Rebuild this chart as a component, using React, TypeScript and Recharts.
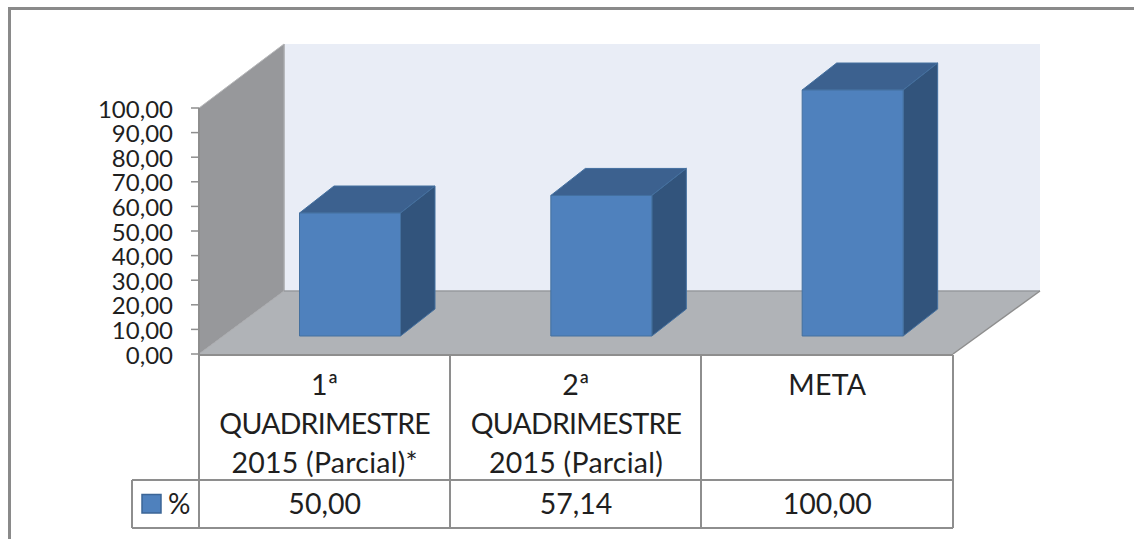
import React from "react";
import { BarChart, Bar, XAxis, YAxis, Customized } from "recharts";

const categories = ["1ª\nQUADRIMESTRE\n2015 (Parcial)*", "2ª\nQUADRIMESTRE\n2015 (Parcial)", "META"];
const values = [50.0, 57.14, 100.0];
const yTicks = [0, 10, 20, 30, 40, 50, 60, 70, 80, 90, 100];
const seriesName = "%";

const data = categories.map((c, i) => ({ category: c, value: values[i] }));
const fmt = (v: number) => v.toFixed(2).replace(".", ",");

const FONT = "Lato, sans-serif";
const TEXT = "#1f1f1f";
const LINE = "#8e8e8e";
const DX = 25.5;
const DY = 18;
const DEPTH_X = 34.5;
const DEPTH_Y = 27;

const Frame = () => (
  <g>
    <polygon points="284,44 1040,44 1040,291 284,291" fill="#e9edf6" />
    <polygon points="199,108 284,44 284,291 199,354" fill="#97989b" />
    <polygon points="199,354 284,291 1040,291 953,354" fill="#b0b3b7" />
    <line x1={284} y1={44} x2={284} y2={291} stroke="#a6a7aa" strokeWidth={1.5} />
    <line x1={284} y1={291} x2={1040} y2={291} stroke="#979a9e" strokeWidth={1.5} />
    <line x1={199} y1={354} x2={284} y2={291} stroke="#a9aaad" strokeWidth={1} />
    <line x1={199} y1={108} x2={284} y2={44} stroke="#b8b9bb" strokeWidth={1} />
    <line x1={953} y1={354} x2={1040} y2={291} stroke={LINE} strokeWidth={1.5} />
  </g>
);

const Table = () => (
  <g stroke={LINE} strokeWidth={2} fill="none">
    <line x1={199} y1={355} x2={953} y2={355} />
    <line x1={199} y1={108} x2={199} y2={528} />
    <line x1={450} y1={355} x2={450} y2={528} />
    <line x1={701} y1={355} x2={701} y2={528} />
    <line x1={953} y1={355} x2={953} y2={528} />
    <line x1={132} y1={480} x2={953} y2={480} />
    <line x1={132} y1={528} x2={953} y2={528} />
    <line x1={132} y1={480} x2={132} y2={528} />
    <rect x={142} y={494.5} width={19} height={18.5} fill="#4f81bd" stroke="#3b6596" strokeWidth={1.5} />
    <text x={168} y={514} fontFamily={FONT} fontSize={28} fill={TEXT} stroke="none">{seriesName}</text>
  </g>
);

const Bar3D = (props: any) => {
  const { x, y, width, height, fill } = props;
  const l = x + DX;
  const r = l + width;
  const t = y - DY;
  const b = t + height;
  return (
    <g stroke="#44709f" strokeWidth={1} strokeLinejoin="round">
      <polygon points={`${l},${t} ${l + DEPTH_X},${t - DEPTH_Y} ${r + DEPTH_X},${t - DEPTH_Y} ${r},${t}`} fill="#3c618f" />
      <polygon points={`${r},${t} ${r + DEPTH_X},${t - DEPTH_Y} ${r + DEPTH_X},${b - DEPTH_Y} ${r},${b}`} fill="#32547c" />
      <rect x={l} y={t} width={width} height={height} fill={fill} />
    </g>
  );
};

const CategoryTick = (props: any) => {
  const { x, payload, index } = props;
  const lines = String(payload.value).split("\n");
  return (
    <g fontFamily={FONT} fill={TEXT} textAnchor="middle">
      {lines.map((ln: string, i: number) => (
        <text key={i} x={x} y={394.5 + i * 39} fontSize={28.5} letterSpacing={ln === "QUADRIMESTRE" ? -0.75 : 0.25}>{ln}</text>
      ))}
      <text x={x} y={514} fontSize={28.5}>{fmt(values[index])}</text>
    </g>
  );
};

const ValueTick = (props: any) => {
  const { y, payload } = props;
  return (
    <text x={173} y={y + 9.5} textAnchor="end" fontFamily={FONT} fontSize={24} fill={TEXT}>
      {fmt(payload.value)}
    </text>
  );
};

export default function App() {
  return (
    <div style={{ position: "absolute", left: 0, top: 0, width: 1134, height: 539, background: "#fff" }}>
      <div style={{ position: "absolute", left: 8, top: 7, width: 1126, height: 532, borderTop: "3px solid #8a8a8a", borderLeft: "3px solid #8a8a8a", boxSizing: "border-box" }} />
      <BarChart
        width={1134}
        height={539}
        data={data}
        margin={{ left: 119, top: 108, right: 181, bottom: 85 }}
        barCategoryGap={0}
        style={{ position: "absolute", left: 0, top: 0 }}
      >
        <Customized component={Frame} />
        <YAxis
          type="number"
          domain={[0, 100]}
          ticks={yTicks}
          width={80}
          interval={0}
          tickSize={8}
          tick={<ValueTick />}
          axisLine={false}
          tickLine={{ stroke: LINE, strokeWidth: 1.5 }}
        />
        <XAxis
          dataKey="category"
          height={100}
          interval={0}
          tick={<CategoryTick />}
          axisLine={false}
          tickLine={false}
        />
        <Customized component={Table} />
        <Bar dataKey="value" name={seriesName} fill="#4f81bd" barSize={101} isAnimationActive={false} shape={<Bar3D />} />
      </BarChart>
    </div>
  );
}
